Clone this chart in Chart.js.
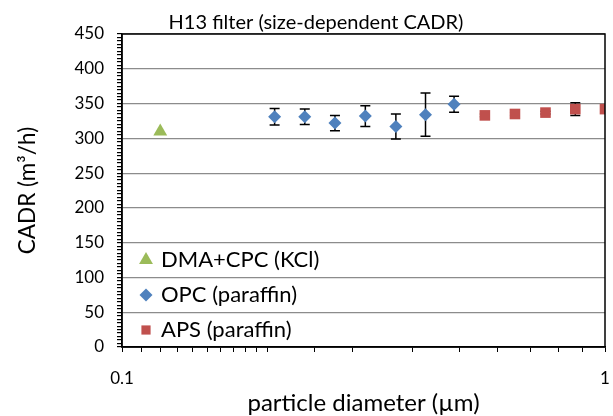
<!DOCTYPE html>
<html>
<head>
<meta charset="utf-8">
<script src="https://cdn.jsdelivr.net/npm/chart.js@4.4.1/dist/chart.umd.min.js"></script>
<style>
  html, body { margin: 0; padding: 0; background: #fff; }
  #wrap { width: 613px; height: 416px; }
</style>
</head>
<body>
<div id="wrap"><canvas id="cadr"></canvas></div>
<script>
// particle diameter (µm) -> CADR (m3/h), with +/- error per point
const dmaDiam = [0.12];
const dmaCadr = [310];
const dmaErr = [0];

const opcDiam = [0.207, 0.239, 0.276, 0.319, 0.369, 0.425, 0.487];
const opcCadr = [331, 331, 322, 332, 317, 334, 349];
const opcErr = [12, 11, 11, 15, 18, 31, 11.5];

const apsDiam = [0.564, 0.651, 0.753, 0.868, 1.0];
const apsCadr = [333, 335, 337, 342, 342];
const apsErr = [2, 2, 2, 9, 2];

const xLabels = [0.1, 1];
const yMajor = 50;

const FONT = 'Lato, "Open Sans", sans-serif';
Chart.defaults.font.family = FONT;
Chart.defaults.color = '#000';

function pts(xs, ys) {
  return xs.map((x, i) => ({ x: x, y: ys[i] }));
}

//------ error bars, drawn under the markers ------//
const errorBars = {
  id: 'errorBars',
  beforeDatasetsDraw(chart) {
    const { ctx, chartArea, scales } = chart;
    ctx.save();
    ctx.beginPath();
    ctx.rect(chartArea.left, chartArea.top, chartArea.width, chartArea.height);
    ctx.clip();
    ctx.strokeStyle = '#000';
    ctx.lineWidth = 1.5;
    ctx.beginPath();
    chart.data.datasets.forEach(ds => {
      if (!ds.errors) return;
      ds.data.forEach((p, i) => {
        const e = ds.errors[i];
        if (!e) return;
        const px = scales.x.getPixelForValue(p.x);
        const top = scales.y.getPixelForValue(p.y + e);
        const bot = scales.y.getPixelForValue(p.y - e);
        ctx.moveTo(px, top); ctx.lineTo(px, bot);
        ctx.moveTo(px - 5, top); ctx.lineTo(px + 5, top);
        ctx.moveTo(px - 5, bot); ctx.lineTo(px + 5, bot);
      });
    });
    ctx.stroke();
    ctx.restore();
  }
};

//------ frame, title and legend ------//
function marker(ctx, style, x, y, r) {
  ctx.beginPath();
  if (style === 'triangle') {
    ctx.moveTo(x, y - r);
    ctx.lineTo(x + r * 0.866, y + r * 0.5);
    ctx.lineTo(x - r * 0.866, y + r * 0.5);
  } else if (style === 'rectRot') {
    ctx.moveTo(x - r, y); ctx.lineTo(x, y - r);
    ctx.lineTo(x + r, y); ctx.lineTo(x, y + r);
  } else {
    const s = r * Math.SQRT1_2;
    ctx.rect(x - s, y - s, 2 * s, 2 * s);
  }
  ctx.closePath();
  ctx.fill();
}

const decor = {
  id: 'decor',
  afterDraw(chart) {
    const { ctx, chartArea: a } = chart;
    ctx.save();
    ctx.strokeStyle = '#000';
    ctx.lineWidth = 1.5;
    ctx.strokeRect(a.left, a.top, a.right - a.left, a.bottom - a.top);

    ctx.fillStyle = '#000';
    ctx.font = '20px ' + FONT;
    ctx.textAlign = 'center';
    ctx.textBaseline = 'alphabetic';
    ctx.fillText('H13 filter (size-dependent CADR)', 316, 29);

    ctx.font = '22px ' + FONT;
    ctx.textAlign = 'left';
    ctx.textBaseline = 'middle';
    chart.data.datasets.forEach((ds, i) => {
      const y = 260 + i * 35;
      ctx.fillStyle = ds.backgroundColor;
      marker(ctx, ds.pointStyle, 146, y, ds.pointStyle === 'triangle' ? 8 : 6.5);
      ctx.fillStyle = '#000';
      ctx.fillText(ds.label, 161, y);
    });
    ctx.restore();
  }
};

new Chart(document.getElementById('cadr'), {
  type: 'scatter',
  data: {
    datasets: [
      {
        label: 'DMA+CPC (KCl)',
        data: pts(dmaDiam, dmaCadr),
        errors: dmaErr,
        pointStyle: 'triangle',
        pointRadius: 8,
        backgroundColor: '#9BBB59',
        borderWidth: 0,
        clip: 0
      },
      {
        label: 'OPC (paraffin)',
        data: pts(opcDiam, opcCadr),
        errors: opcErr,
        pointStyle: 'rectRot',
        pointRadius: 6.5,
        backgroundColor: '#4F81BD',
        borderWidth: 0,
        clip: 0
      },
      {
        label: 'APS (paraffin)',
        data: pts(apsDiam, apsCadr),
        errors: apsErr,
        pointStyle: 'rect',
        pointRadius: 7.5,
        backgroundColor: '#C0504D',
        borderWidth: 0,
        clip: 0
      }
    ]
  },
  options: {
    responsive: true,
    maintainAspectRatio: false,
    animation: false,
    layout: { padding: { left: 0, right: 2, top: 34, bottom: 0 } },
    plugins: {
      legend: { display: false },
      title: { display: false },
      tooltip: { enabled: false }
    },
    scales: {
      x: {
        type: 'logarithmic',
        min: 0.1,
        max: 1,
        ticks: {
          autoSkip: false,
          maxRotation: 0,
          padding: 16,
          font: { size: 17 },
          callback: v => xLabels.includes(v) ? String(v) : ''
        },
        grid: { drawOnChartArea: false, drawTicks: true, tickLength: 5, color: '#000' },
        border: { color: '#000', width: 1.5 },
        title: {
          display: true,
          text: 'particle diameter (µm)',
          font: { size: 24, lineHeight: 1.0 },
          padding: { top: 0, bottom: 1 }
        },
        afterFit(s) { s.height = 69; s.paddingLeft = 0; s.paddingRight = 0; }
      },
      y: {
        min: 0,
        max: 450,
        ticks: {
          stepSize: 5,
          autoSkip: false,
          padding: 13,
          font: { size: 17 },
          callback: v => v % yMajor === 0 ? v : ''
        },
        grid: {
          color: c => (c.tick && c.tick.value % yMajor === 0) ? '#8c8c8c' : 'rgba(0,0,0,0)',
          tickColor: '#000',
          tickLength: 5,
          lineWidth: 1.2
        },
        border: { color: '#000', width: 1.5 },
        title: {
          display: true,
          text: 'CADR (m³/h)',
          font: { size: 22.5, lineHeight: 1.2 },
          padding: { top: 14, bottom: 0 }
        },
        afterFit(s) { s.width = 122; }
      }
    }
  },
  plugins: [errorBars, decor]
});
</script>
</body>
</html>
